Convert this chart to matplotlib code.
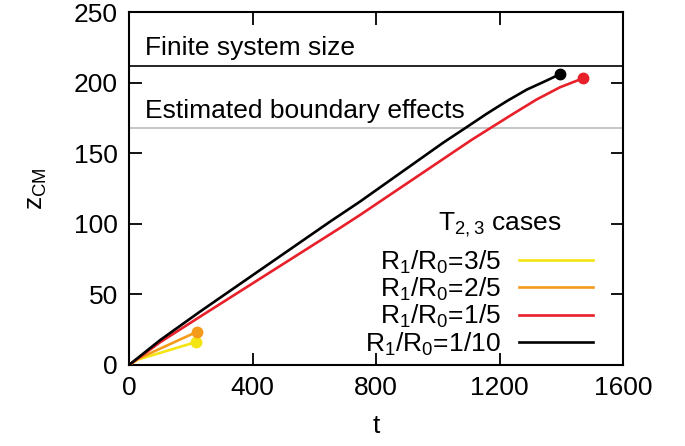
import matplotlib.pyplot as plt

plt.rcParams['font.family'] = 'Liberation Sans'
plt.rcParams['mathtext.fontset'] = 'custom'
plt.rcParams['mathtext.rm'] = 'Liberation Sans'
plt.rcParams['font.size'] = 19

# z_CM(t) for the different radius ratios
t_35 = [0, 30, 100, 217]
z_35 = [0, 4, 8.5, 16.3]

t_25 = [0, 30, 100, 221]
z_25 = [0, 4.5, 11.5, 23.6]

t_15 = [0, 100, 230, 683, 748, 1110, 1169, 1245, 1320, 1396, 1450, 1472]
z_15 = [0, 16, 34.2, 97, 106.2, 159.5, 167.6, 178, 188, 196.7, 201.3, 203]

t_110 = [0, 100, 230, 651, 748, 1018, 1094, 1159, 1223, 1288, 1353, 1396]
z_110 = [0, 17.5, 37.8, 101.5, 115.7, 157.5, 168.5, 178, 186.8, 195, 201.5, 206]

system_size = 212
boundary = 168

labels = [r'R$_\mathregular{1}$/R$_\mathregular{0}$=3/5',
          r'R$_\mathregular{1}$/R$_\mathregular{0}$=2/5',
          r'R$_\mathregular{1}$/R$_\mathregular{0}$=1/5',
          r'R$_\mathregular{1}$/R$_\mathregular{0}$=1/10']
colors = ['#f4e411', '#f49b1c', '#e8202a', '#000000']

fig = plt.figure(figsize=(6.85, 4.46), dpi=100)
ax = fig.add_axes([129 / 685, 1 - 365 / 446, 494 / 685, 353 / 446])

ax.axhline(system_size, color='black', lw=1.2, zorder=1)
ax.axhline(boundary, color='#bbbbbb', lw=1.2, zorder=1)
ax.text(52, 219.5, 'Finite system size')
ax.text(52, 175, 'Estimated boundary effects')

series = [(t_35, z_35), (t_25, z_25), (t_15, z_15), (t_110, z_110)]
for (t, z), c, lab in zip(series, colors, labels):
    ax.plot(t, z, color=c, lw=1.9, label=lab, zorder=3)
    ax.plot(t[-1], z[-1], 'o', color=c, ms=7.5, zorder=4)

# legend title drawn on its own, key below it
fig.text(500 / 685, 1 - 230 / 446, r'T$_\mathregular{2, 3}$ cases', ha='center',
         va='baseline')
leg = ax.legend(loc='upper right', bbox_to_anchor=(593 / 685, 1 - 248 / 446),
                bbox_transform=fig.transFigure, frameon=False, markerfirst=False,
                handlelength=2.8, handletextpad=0.7,
                labelspacing=0.0, borderpad=0, borderaxespad=0)
for line in leg.get_lines():
    line.set_linewidth(1.9)

ax.set_xlim(0, 1600)
ax.set_ylim(0, 250)
ax.set_xticks([0, 400, 800, 1200, 1600])
ax.set_yticks([0, 50, 100, 150, 200, 250])
ax.tick_params(direction='in', length=9, width=1.3, top=True, right=True, pad=8)
for s in ax.spines.values():
    s.set_linewidth(1.5)

ax.set_xlabel('t', labelpad=10)
ax.set_ylabel(r'z$_\mathregular{CM}$', labelpad=18)

fig.savefig('out.png', dpi=100)
